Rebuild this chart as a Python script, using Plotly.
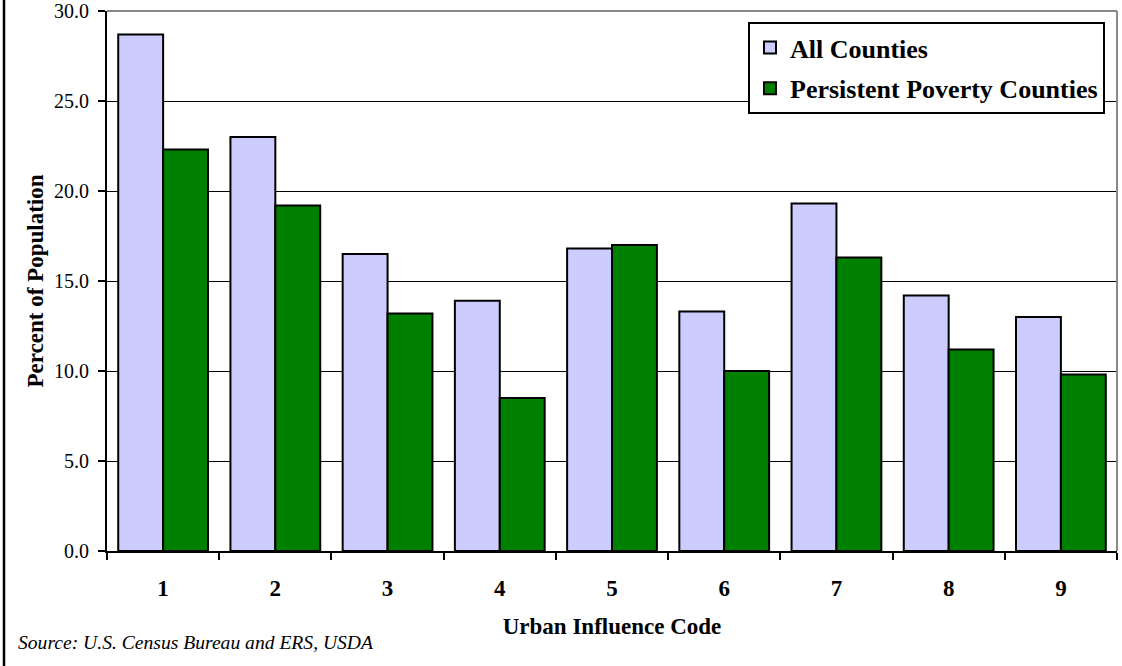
import plotly.graph_objects as go

# Urban influence codes (x categories)
codes = ["1", "2", "3", "4", "5", "6", "7", "8", "9"]

# Percent of population, by county type
all_counties = [28.7, 23.0, 16.5, 13.9, 16.8, 13.3, 19.3, 14.2, 13.0]
persistent_poverty = [22.3, 19.2, 13.2, 8.5, 17.0, 10.0, 16.3, 11.2, 9.8]

y_ticks = [0, 5, 10, 15, 20, 25, 30]

SERIF = "Liberation Serif, Times New Roman, serif"

W, H = 1122, 666
L, R, T, B = 107, 5, 11, 115
plot_w = W - L - R
plot_h = H - T - B

fig = go.Figure()
fig.add_trace(go.Bar(
    x=codes, y=all_counties, name="<b>All Counties</b>",
    legendgroup="a",
    marker=dict(color="#CCCCFF", line=dict(color="black", width=2)),
))
fig.add_trace(go.Bar(
    x=codes, y=persistent_poverty, name="<b>Persistent Poverty Counties</b>",
    legendgroup="b",
    marker=dict(color="#008000", line=dict(color="black", width=2)),
))

# outer frame line on the left edge of the figure
left_px = 4
fx = (left_px - L) / plot_w
fig.add_shape(type="line", xref="paper", yref="paper",
              x0=fx, x1=fx, y0=-B / plot_h - 0.05, y1=1 + T / plot_h + 0.05,
              line=dict(color="black", width=2.5))
# grey top and right borders of the plot area
fig.add_shape(type="line", xref="paper", yref="paper", x0=0, x1=1, y0=1, y1=1,
              line=dict(color="#888888", width=2), layer="above")
fig.add_shape(type="line", xref="paper", yref="paper", x0=1, x1=1, y0=0, y1=1,
              line=dict(color="#888888", width=2), layer="above")

# source note
fig.add_annotation(
    text="<i>Source: U.S. Census Bureau and ERS, USDA</i>",
    xref="paper", yref="paper",
    x=(16 - L) / plot_w, y=(551 - 642) / plot_h,
    xanchor="left", yanchor="middle", showarrow=False,
    font=dict(family=SERIF, size=19.6, color="black"),
)

fig.update_layout(
    width=W, height=H,
    margin=dict(l=L, r=R, t=T, b=B),
    paper_bgcolor="white", plot_bgcolor="white",
    barmode="group", bargap=0.2, bargroupgap=0,
    font=dict(family=SERIF, color="black"),
    legend=dict(
        x=(1105 - L) / plot_w, xanchor="right",
        y=(551 - 22) / plot_h, yanchor="top",
        bgcolor="white", bordercolor="black", borderwidth=2,
        font=dict(family=SERIF, size=26, color="black"),
        traceorder="grouped", tracegroupgap=4,
    ),
    xaxis=dict(
        type="category", automargin=False,
        tickson="boundaries", ticks="outside", ticklen=7, tickwidth=2,
        tickcolor="black",
        showline=True, linecolor="black", linewidth=2,
        showgrid=False,
        tickfont=dict(family=SERIF, size=23, color="black", weight="bold"),
        ticklabelstandoff=15,
        title=dict(text="<b>Urban Influence Code</b>",
                   font=dict(family=SERIF, size=23, color="black"),
                   standoff=18),
    ),
    yaxis=dict(
        range=[0, 30], tickvals=y_ticks, tickformat=".1f", automargin=False,
        ticks="outside", ticklen=7, tickwidth=2, tickcolor="black",
        showline=True, linecolor="black", linewidth=2,
        showgrid=True, gridcolor="black", gridwidth=1,
        zeroline=False,
        tickfont=dict(family=SERIF, size=20, color="black"),
        ticklabelstandoff=5,
        title=dict(text="<b>Percent of Population</b>",
                   font=dict(family=SERIF, size=23, color="black"),
                   standoff=4),
    ),
)

fig.write_html("out.html")
